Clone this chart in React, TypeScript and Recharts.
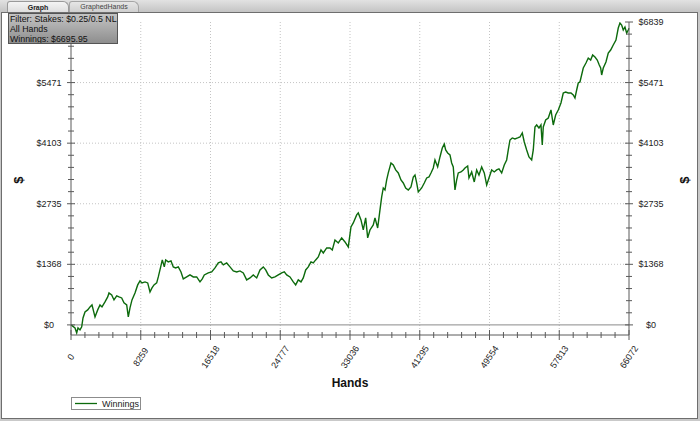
import React from 'react';
import { LineChart, Line, XAxis, YAxis, ReferenceLine } from 'recharts';

// cumulative winnings (hands played, dollars)
const hands = [
  0, 474, 675, 829, 1066, 1267, 1421, 1658, 1977, 2250, 2486, 2842, 3161, 3434, 3670, 4026, 4345, 4499, 4819, 5091,
  5411, 5683, 6003, 6275, 6595, 6784, 6986, 7222, 7578, 7897, 8170, 8406, 8762, 9081, 9354, 9590, 9827, 10147, 10336, 10620,
  10810, 11047, 11212, 11520, 11840, 12112, 12396, 12704, 13024, 13296, 13699, 14090, 14480, 14883, 15274, 15546, 15783, 16256, 16659, 17050,
  17440, 17760, 18032, 18435, 18826, 19216, 19619, 20010, 20400, 20803, 21194, 21584, 21987, 22378, 22768, 23053, 23361, 23763, 24154, 24545,
  24947, 25255, 25539, 25930, 26320, 26604, 26912, 27232, 27504, 27789, 28096, 28416, 28688, 28973, 29281, 29600, 29872, 30275, 30666, 30938,
  31258, 31648, 32051, 32442, 32833, 33152, 33424, 33827, 34016, 34336, 34608, 34892, 35129, 35402, 35792, 35994, 36313, 36586, 36787, 36976,
  37178, 37379, 37569, 37888, 38160, 38445, 38753, 39072, 39345, 39629, 39937, 40256, 40529, 40730, 40931, 41121, 41523, 41831, 42115, 42387,
  42624, 42896, 43098, 43417, 43690, 43962, 44199, 44365, 44602, 44874, 45075, 45264, 45466, 45667, 45856, 46176, 46448, 46650, 46969, 47123,
  47443, 47751, 48035, 48307, 48627, 48935, 49219, 49491, 49811, 50119, 50403, 50675, 50995, 51303, 51587, 51777, 51978, 52250, 52570, 52889,
  53162, 53434, 53671, 53955, 54227, 54547, 54737, 54938, 55139, 55411, 55648, 55802, 55921, 56205, 56513, 56832, 57104, 57388, 57696, 58016,
  58288, 58573, 58880, 59200, 59472, 59674, 59875, 60064, 60266, 60656, 60976, 61248, 61532, 61769, 62042, 62314, 62551, 62717, 62835, 63025,
  63344, 63616, 63901, 64208, 64528, 64800, 65002, 65203, 65392, 65594, 65795, 65985, 66072,
];
const winnings = [
  0, -68, -181, -68, -113, -45, 158, 293, 339, 406, 451, 181, 339, 451, 406, 519, 632, 722, 677, 564,
  655, 632, 609, 497, 451, 181, 384, 564, 722, 903, 993, 948, 971, 948, 745, 835, 903, 948, 1083, 1309,
  1467, 1309, 1467, 1422, 1444, 1309, 1286, 1309, 1196, 1038, 1083, 1128, 1083, 1083, 971, 1038, 1128, 1174, 1196, 1286,
  1399, 1422, 1354, 1399, 1309, 1219, 1196, 1219, 1174, 1016, 1061, 1128, 1061, 1241, 1309, 1241, 1128, 1061, 1083, 1128,
  1174, 1196, 1128, 1083, 971, 903, 1016, 971, 1061, 1241, 1309, 1422, 1399, 1467, 1535, 1693, 1625, 1738, 1738, 1693,
  1918, 1851, 1964, 1873, 1760, 2212, 2302, 2483, 2528, 2370, 2144, 2415, 1964, 2144, 2257, 2415, 2189, 2596, 2889, 3092,
  3047, 3273, 3431, 3656, 3611, 3499, 3431, 3273, 3205, 3092, 3047, 3115, 3340, 3385, 3205, 3002, 3092, 3205, 3318, 3340,
  3431, 3543, 3724, 3566, 3792, 3995, 4085, 3950, 3882, 3837, 3656, 3566, 3047, 3273, 3431, 3453, 3499, 3543, 3589, 3318,
  3453, 3227, 3499, 3385, 3566, 3431, 3160, 3318, 3499, 3453, 3499, 3521, 3431, 3611, 3724, 3950, 4175, 4221, 4198, 4221,
  4243, 4333, 4130, 3950, 3792, 3724, 3950, 4469, 4514, 4446, 4514, 4063, 4469, 4627, 4672, 4853, 4514, 4740, 4853, 5011,
  5236, 5259, 5236, 5236, 5191, 5123, 5304, 5462, 5485, 5800, 5913, 6026, 5981, 6094, 6049, 5981, 5868, 5800, 5643, 5800,
  5936, 6139, 6207, 6320, 6432, 6703, 6816, 6771, 6658, 6726, 6590, 6658, 6696,
];

const xTickLabels = ['0', '8259', '16518', '24777', '33036', '41295', '49554', '57813', '66072'];
const yTickLabels = ['$0', '$1368', '$2735', '$4103', '$5471', '$6839'];

const X_MAX = 66072;
const Y_MAX = 6839;
const Y_MIN = -228;
const MINOR = 5;

const data = hands.map((h, i) => ({ hands: h, winnings: winnings[i] }));

const xTicks = Array.from({ length: (xTickLabels.length - 1) * MINOR + 1 }, (_, k) => (k * X_MAX) / ((xTickLabels.length - 1) * MINOR));
const yTicks = Array.from({ length: (yTickLabels.length - 1) * MINOR + 1 }, (_, k) => (k * Y_MAX) / ((yTickLabels.length - 1) * MINOR));
const xMajor = xTickLabels.map((_, i) => (i * X_MAX) / (xTickLabels.length - 1));
const yMajor = yTickLabels.map((_, i) => (i * Y_MAX) / (yTickLabels.length - 1));

const FONT = '"Liberation Sans", Arial, sans-serif';
const AXIS = '#5a5a5a';
const LINE_GREEN = '#0c6a0c';

const YTick = ({ x, y, index, side }: any) => {
  const major = index % MINOR === 0;
  const len = major ? 4 : 3;
  // the top-left label sits under the filter box in the original, so it is not drawn
  const hidden = side === 'left' && index === yTicks.length - 1;
  return (
    <g>
      <line x1={x - len} x2={x + len} y1={y} y2={y} stroke={AXIS} />
      {major && !hidden && (
        <text x={side === 'left' ? x - 22 : x + 22} y={y} dy={3} textAnchor="middle" fontSize={9} fontFamily={FONT} fill="#222">
          {yTickLabels[index / MINOR]}
        </text>
      )}
    </g>
  );
};

const XTick = ({ x, y, index }: any) => {
  const major = index % MINOR === 0;
  const len = major ? 5 : 3;
  const ly = y + 22;
  return (
    <g>
      <line x1={x} x2={x} y1={y - len} y2={y + len} stroke={AXIS} />
      {major && (
        <text x={x} y={ly} dy={3} textAnchor="middle" fontSize={9} fontFamily={FONT} fill="#222" transform={`rotate(-56 ${x} ${ly})`}>
          {xTickLabels[index / MINOR]}
        </text>
      )}
    </g>
  );
};

const TopTick = ({ x, y, index }: any) => {
  const len = index % MINOR === 0 ? 6 : 4;
  return <line x1={x} x2={x} y1={y} y2={y + len} stroke={AXIS} />;
};

const App = () => (
  <div style={{ position: 'absolute', left: 0, top: 0, width: 700, height: 421, background: '#c9c9c9', overflow: 'hidden', fontFamily: FONT }}>
    {/* tab strip */}
    <div style={{ position: 'absolute', left: 0, top: 0, width: 700, height: 12, background: 'linear-gradient(#e2e2e2, #c4c4c4)' }} />
    <div style={{ position: 'absolute', left: 7, top: 1, width: 60, height: 11, background: 'linear-gradient(#f4f4f4, #dcdcdc)', border: '1px solid #9a9a9a', borderBottom: 'none', borderRadius: '3px 6px 0 0', fontSize: 7, fontWeight: 'bold', textAlign: 'center', lineHeight: '11px', color: '#222' }}>Graph</div>
    <div style={{ position: 'absolute', left: 69, top: 1, width: 68, height: 10, background: 'linear-gradient(#e6e6e6, #cfcfcf)', border: '1px solid #a5a5a5', borderBottom: 'none', borderRadius: '3px 6px 0 0', fontSize: 7, textAlign: 'center', lineHeight: '10px', color: '#444' }}>GraphedHands</div>
    {/* white panel */}
    <div style={{ position: 'absolute', left: 1, top: 12, width: 695, height: 405, background: '#fff', border: '1px solid #6e6e6e' }} />

    <div style={{ position: 'absolute', left: 0, top: 0 }}>
      <LineChart width={700} height={421} data={data} margin={{ top: 22, right: 0, bottom: 0, left: 0 }}>
        <XAxis
          xAxisId="bottom"
          dataKey="hands"
          type="number"
          domain={[0, X_MAX]}
          ticks={xTicks}
          interval={0}
          height={86}
          tickSize={0}
          tickMargin={0}
          tickLine={false}
          stroke={AXIS}
          tick={<XTick />}
        />
        <XAxis
          xAxisId="top"
          orientation="top"
          dataKey="hands"
          type="number"
          domain={[0, X_MAX]}
          ticks={xTicks}
          interval={0}
          height={0}
          tickSize={0}
          tickMargin={0}
          tickLine={false}
          stroke={AXIS}
          tick={<TopTick />}
        />
        <YAxis
          yAxisId="left"
          type="number"
          domain={[Y_MIN, Y_MAX]}
          allowDataOverflow
          ticks={yTicks}
          interval={0}
          width={71}
          tickSize={0}
          tickMargin={0}
          tickLine={false}
          stroke={AXIS}
          tick={<YTick side="left" />}
        />
        <YAxis
          yAxisId="right"
          orientation="right"
          type="number"
          domain={[Y_MIN, Y_MAX]}
          allowDataOverflow
          ticks={yTicks}
          interval={0}
          width={71}
          tickSize={0}
          tickMargin={0}
          tickLine={false}
          stroke={AXIS}
          tick={<YTick side="right" />}
        />
        {xMajor.slice(1, -1).map((v) => (
          <ReferenceLine key={`vx${v}`} xAxisId="bottom" yAxisId="left" x={v} stroke="#c4c4c4" strokeDasharray="1 2" />
        ))}
        {yMajor.slice(1, -1).map((v) => (
          <ReferenceLine key={`hy${v}`} xAxisId="bottom" yAxisId="left" y={v} stroke="#c4c4c4" strokeDasharray="1 2" />
        ))}
        <ReferenceLine xAxisId="bottom" yAxisId="left" y={0} stroke="#8a8a8a" />
        <Line
          xAxisId="bottom"
          yAxisId="left"
          type="linear"
          dataKey="winnings"
          name="Winnings"
          stroke={LINE_GREEN}
          strokeWidth={1.4}
          dot={false}
          isAnimationActive={false}
        />
      </LineChart>
    </div>

    {/* filter info box */}
    <div style={{ position: 'absolute', left: 8, top: 13, width: 110, height: 31, background: 'linear-gradient(#c4c4c4, #8e8e8e)', border: '1px solid #555', fontFamily: FONT, fontSize: 8.8, lineHeight: '10px', color: '#111', paddingLeft: 1, paddingTop: 0, boxSizing: 'border-box', whiteSpace: 'nowrap', overflow: 'hidden' }}>
      <div>Filter: Stakes: $0.25/0.5 NL</div>
      <div>All Hands</div>
      <div>Winnings: $6695.95</div>
    </div>

    {/* axis titles */}
    <div style={{ position: 'absolute', left: 71, top: 376, width: 558, textAlign: 'center', fontSize: 12, fontWeight: 'bold', color: '#111' }}>Hands</div>
    <div style={{ position: 'absolute', left: 8, top: 173, width: 20, height: 14, textAlign: 'center', fontSize: 13, fontWeight: 'bold', color: '#111', transform: 'rotate(-90deg)' }}>$</div>
    <div style={{ position: 'absolute', left: 674, top: 173, width: 20, height: 14, textAlign: 'center', fontSize: 13, fontWeight: 'bold', color: '#111', transform: 'rotate(-90deg)' }}>$</div>

    {/* legend */}
    <div style={{ position: 'absolute', left: 71, top: 397, width: 70, height: 13, border: '1px solid #8c8c8c', boxSizing: 'border-box', background: '#fff', display: 'flex', alignItems: 'center', fontSize: 9, color: '#222' }}>
      <svg width={26} height={11} style={{ marginLeft: 2 }}>
        <line x1={1} x2={23} y1={5.5} y2={5.5} stroke={LINE_GREEN} strokeWidth={1.3} />
      </svg>
      <span style={{ marginLeft: 2 }}>Winnings</span>
    </div>
  </div>
);

export default App;
